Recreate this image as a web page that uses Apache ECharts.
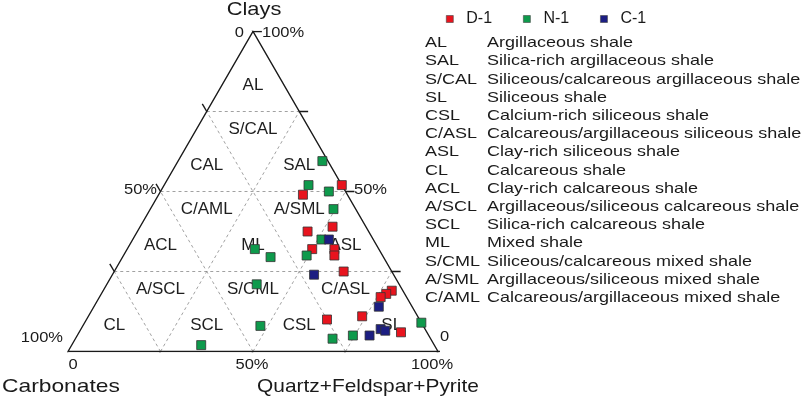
<!DOCTYPE html>
<html>
<head>
<meta charset="utf-8">
<script src="https://cdn.jsdelivr.net/npm/echarts@6/dist/echarts.min.js"></script>
<style>html,body{margin:0;padding:0;background:#fff}#chart{width:809px;height:399px}</style>
</head>
<body>
<div id="chart"></div>
<script>
// samples as [clay, carbonate, quartz+feldspar+pyrite] in %
var d1 = [[52,0,48],[49,12,39],[39,9,52],[37.5,16.5,46],[32,18,50],[32,12,56],[30,13,57],[25,13,62],
          [19,3,78],[18,5,77],[17,7,76],[10,25,65],[11,15,74],[6,7,87]];
var n1 = [[59.5,1.5,39],[52,9,39],[50,4.5,45.5],[44.5,6,49.5],[35,14,51],[32,33.5,34.5],[29.5,30.5,40],
          [30,20.5,49.5],[21,38.5,40.5],[8,44,48],[2,63,35],[4,26.5,69.5],[5,20.5,74.5],[9,0,91]];
var c1 = [[35,12,53],[24,21.5,54.5],[14,9,77],[5,16,79],[7,12,81],[6.5,11,82.5]];

var wells = ['D-1','N-1','C-1'];
var wellColors = ['#e8141e','#0e9a4c','#1c1e82'];

// lithofacies names per row, top row first, left to right
var regionRows = [
    ['AL'],
    ['CAL','S/CAL','SAL'],
    ['ACL','C/AML','ML','A/SML','ASL'],
    ['CL','A/SCL','SCL','S/CML','CSL','C/ASL','SL']
];
var legendCodes = ['AL','SAL','S/CAL','SL','CSL','C/ASL','ASL','CL','ACL','A/SCL','SCL','ML','S/CML','A/SML','C/AML'];
var legendNames = ['Argillaceous shale','Silica-rich argillaceous shale','Siliceous/calcareous argillaceous shale',
    'Siliceous shale','Calcium-rich siliceous shale','Calcareous/argillaceous siliceous shale',
    'Clay-rich siliceous shale','Calcareous shale','Clay-rich calcareous shale',
    'Argillaceous/siliceous calcareous shale','Silica-rich calcareous shale','Mixed shale',
    'Siliceous/calcareous mixed shale','Argillaceous/siliceous mixed shale','Calcareous/argillaceous mixed shale'];
var gridSteps = [25,50,75];
var tickSteps = [0,25,50,75,100];

var H = Math.sqrt(3)/2;
// clay c, quartz q -> cartesian
function xy(c, q){ return [q + c/2, c*H]; }
function pt(s){ return xy(s[0], s[2]); }

var dashed = [], solid = [];
solid.push({coords:[xy(0,0), xy(0,100), xy(100,0), xy(0,0)]});
gridSteps.forEach(function(t){
    dashed.push({coords:[xy(t,0), xy(t,100-t)]});   // clay constant
    dashed.push({coords:[xy(0,t), xy(100-t,t)]});   // quartz constant
    dashed.push({coords:[xy(0,100-t), xy(100-t,0)]}); // carbonate constant
});
var L = 2.4;
tickSteps.forEach(function(t){
    var p;
    if(t>0){ p = xy(t,0); solid.push({coords:[p,[p[0]-0.5*L,p[1]+H*L]]}); }
    p = xy(t,100-t); solid.push({coords:[p,[p[0]+L,p[1]]]});
    p = xy(0,t); solid.push({coords:[p,[p[0]-0.5*L,p[1]-H*L]]});
});

var regionLabels = [];
regionRows.forEach(function(row, r){
    var lo = (3-r)*25, hi = lo+25;
    row.forEach(function(name, j){
        var u, p;
        if(j%2===0){ u=j/2; p=[lo/2+25*u+12.5, (lo+25/3)*H]; }
        else { u=(j-1)/2; p=[lo/2+25*(u+1), (hi-5.5)*H]; }
        regionLabels.push({name:name, value:p});
    });
});

var font = 'Liberation Sans, Arial, sans-serif';
function txt(s, x, y, align, size, sx){
    return {type:'text', x:x, y:y, scaleX:sx||1.1, silent:true,
        style:{text:s, fill:'#1a1a1a', font:size+'px '+font, align:align, verticalAlign:'middle'}};
}

var series = [
    {type:'lines', coordinateSystem:'cartesian2d', polyline:true, silent:true, data:dashed,
        lineStyle:{color:'#8a8a8a', width:0.8, type:[3,3], opacity:1}, z:1},
    {type:'lines', coordinateSystem:'cartesian2d', polyline:true, silent:true, data:solid,
        lineStyle:{color:'#1a1a1a', width:1.4, opacity:1}, z:2},
    {type:'scatter', data:regionLabels, symbolSize:1, itemStyle:{color:'transparent', opacity:1}, silent:true, z:3,
        label:{show:true, position:'inside', formatter:'{b}', color:'#1e1e1e', fontSize:17, fontFamily:font,
            textBorderWidth:0}}
];
[d1,n1,c1].forEach(function(arr, i){
    series.push({name:wells[i], type:'scatter', symbol:'rect', symbolSize:9, z:5,
        data:arr.map(pt), itemStyle:{color:wellColors[i], borderColor:'#333', borderWidth:0.8, opacity:1}});
});

var chart = echarts.init(document.getElementById('chart'));
chart.setOption({
    animation:false,
    grid:{left:68, right:371, top:31.5, bottom:47.5},
    xAxis:{type:'value', min:0, max:100, show:false},
    yAxis:{type:'value', min:0, max:100*H, show:false},
    legend:{data:wells, left:446, top:11, padding:0, icon:'rect', itemWidth:7, itemHeight:7, itemGap:31,
        itemStyle:{borderWidth:0.6, borderColor:'#444', opacity:1},
        textStyle:{fontSize:16, fontFamily:font, color:'#1a1a1a', padding:[0,0,0,8]}},
    series:series,
    graphic:[
        txt('Clays', 254, 10, 'center', 19, 1.15),
        txt('Carbonates', 2, 387, 'left', 19, 1.2),
        txt('Quartz+Feldspar+Pyrite', 257, 387, 'left', 19, 1.1),
        txt('0', 244, 33, 'right', 15),
        txt('100%', 262, 33, 'left', 15),
        txt('50%', 157, 190, 'right', 15),
        txt('50%', 354, 190, 'left', 15),
        txt('100%', 63, 338, 'right', 15),
        txt('0', 440, 337, 'left', 15),
        txt('0', 73, 365, 'center', 15),
        txt('50%', 252, 365, 'center', 15),
        txt('100%', 432, 365, 'center', 15),
        {type:'text', x:425, y:34, scaleX:1.2, silent:true,
            style:{text:legendCodes.join('\n'), fill:'#1a1a1a', font:'15px '+font, lineHeight:18.2, verticalAlign:'top'}},
        {type:'text', x:487, y:34, scaleX:1.2, silent:true,
            style:{text:legendNames.join('\n'), fill:'#1a1a1a', font:'15px '+font, lineHeight:18.2, verticalAlign:'top'}}
    ]
});
</script>
</body>
</html>
